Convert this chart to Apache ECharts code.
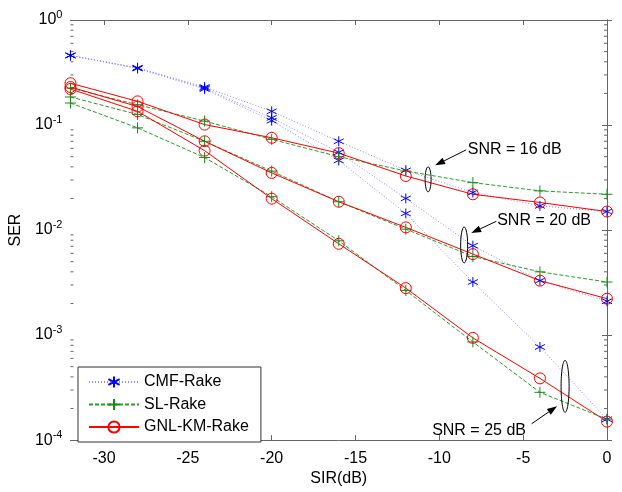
<!DOCTYPE html>
<html>
<head>
<meta charset="utf-8">
<script src="https://cdn.jsdelivr.net/npm/echarts@6/dist/echarts.min.js"></script>
<style>
  html, body { margin: 0; padding: 0; background: #fff; }
  #main { width: 622px; height: 492px; }
</style>
</head>
<body>
<div id="main"></div>
<script>
// SIR values (dB)
var sir = [-32, -28, -24, -20, -16, -12, -8, -4, 0];
var xTicks = [-30, -25, -20, -15, -10, -5, 0];
var yTicks = [1e-4, 1e-3, 1e-2, 1e-1, 1];
var yMinor = [2e-4,3e-4,4e-4,5e-4,6e-4,7e-4,8e-4,9e-4,
              2e-3,3e-3,4e-3,5e-3,6e-3,7e-3,8e-3,9e-3,
              2e-2,3e-2,4e-2,5e-2,6e-2,7e-2,8e-2,9e-2,
              0.2,0.3,0.4,0.5,0.6,0.7,0.8,0.9];

// CMF-Rake, SNR = 16 / 20 / 25 dB
var cmf16 = [0.46, 0.35, 0.23, 0.135, 0.070, 0.037, 0.0228, 0.017, 0.015];
var cmf20 = [0.46, 0.35, 0.225, 0.117, 0.055, 0.020, 0.0071, 0.0033, 0.0021];
var cmf25 = [0.46, 0.345, 0.22, 0.11, 0.046, 0.0144, 0.0032, 0.00077, 0.000158];
// SL-Rake
var sl16 = [0.225, 0.156, 0.109, 0.073, 0.050, 0.0365, 0.0283, 0.0236, 0.0219];
var sl20 = [0.185, 0.126, 0.070, 0.0364, 0.0186, 0.0102, 0.0056, 0.0040, 0.0032];
var sl25 = [0.162, 0.094, 0.049, 0.0208, 0.0079, 0.00266, 0.00086, 0.000285, 0.000158];
// GNL-KM-Rake
var gnl16 = [0.25, 0.168, 0.101, 0.0756, 0.054, 0.0327, 0.0219, 0.0183, 0.015];
var gnl20 = [0.23, 0.15, 0.070, 0.035, 0.0186, 0.0106, 0.0059, 0.0033, 0.00222];
var gnl25 = [0.22, 0.135, 0.057, 0.0199, 0.0074, 0.0028, 0.00094, 0.000387, 0.00015];

// annotations (data coords): label, text anchor, arrow start, arrow tip, ellipse centre, ellipse radii (px)
var notes = [
  {text: 'SNR = 16 dB', at: [-8.3, 0.0586], from: [-8.4, 0.058], tip: [-10.25, 0.0413], ell: [-10.67, 0.0304], r: [3, 12.5]},
  {text: 'SNR = 20 dB', at: [-6.55, 0.01217], from: [-6.6, 0.0121], tip: [-8.1, 0.00937], ell: [-8.52, 0.00721], r: [3.5, 18]},
  {text: 'SNR = 25 dB', at: [-10.43, 0.000122], from: [-4.5, 0.000143], tip: [-2.98, 0.00021], ell: [-2.5, 0.000325], r: [4, 26]}
];

var FONT = '"Liberation Sans", Arial, sans-serif';
var STAR = 'path://M0,-10L0,10M-8.66,-5L8.66,5M-8.66,5L8.66,-5';
var PLUS = 'path://M0,-10L0,10M-10,0L10,0';

function pts(ys) {
  return sir.map(function (x, i) { return [x, ys[i]]; });
}

function cmfSeries(ys) {
  return {
    name: 'CMF-Rake', type: 'line', data: pts(ys),
    symbol: STAR, symbolSize: 10,
    itemStyle: {color: 'transparent', borderColor: '#0000ff', borderWidth: 1},
    lineStyle: {color: '#8c8cff', width: 1, type: [1, 2]}
  };
}
function slSeries(ys) {
  return {
    name: 'SL-Rake', type: 'line', data: pts(ys),
    symbol: PLUS, symbolSize: 11,
    itemStyle: {color: 'transparent', borderColor: '#1a8c1a', borderWidth: 1},
    lineStyle: {color: '#2e9a2e', width: 1, type: [4, 2]}
  };
}
function gnlSeries(ys) {
  return {
    name: 'GNL-KM-Rake', type: 'line', data: pts(ys),
    symbol: 'circle', symbolSize: 11,
    itemStyle: {color: 'transparent', borderColor: '#ff0000', borderWidth: 1},
    lineStyle: {color: '#ff0000', width: 1}
  };
}

var chart = echarts.init(document.getElementById('main'));

var axisLine = {show: true, lineStyle: {color: '#666', width: 1}};
var yLabelRich = {
  b: {fontSize: 16, fontFamily: FONT, color: '#000'},
  s: {fontSize: 11, fontFamily: FONT, color: '#000', padding: [0, 0, 10, 0]}
};

var option = {
  backgroundColor: '#fff',
  animation: false,
  grid: {left: 70, right: 15, top: 20, bottom: 50},
  legend: {
    data: ['CMF-Rake', 'SL-Rake', 'GNL-KM-Rake'],
    orient: 'vertical', left: 78, top: 367,
    itemWidth: 50, itemHeight: 14, itemGap: 6.5,
    padding: [7, 12, 7, 10],
    borderColor: '#333', borderWidth: 1, backgroundColor: '#fff',
    textStyle: {fontSize: 16, fontFamily: FONT, color: '#000'}
  },
  xAxis: [{
    type: 'value', min: -32, max: 0, position: 'bottom',
    name: 'SIR(dB)', nameLocation: 'middle', nameGap: 27,
    nameTextStyle: {fontSize: 16, fontFamily: FONT, color: '#000'},
    axisLine: axisLine,
    axisTick: {inside: true, length: 5, customValues: xTicks, lineStyle: {color: '#666'}},
    axisLabel: {customValues: xTicks, margin: 10, fontSize: 16, fontFamily: FONT, color: '#000'},
    splitLine: {show: false}
  }, {
    type: 'value', min: -32, max: 0, position: 'top',
    axisLine: axisLine,
    axisTick: {inside: true, length: 5, customValues: xTicks, lineStyle: {color: '#666'}},
    axisLabel: {show: false},
    splitLine: {show: false}
  }],
  yAxis: [{
    type: 'log', logBase: 10, min: 1e-4, max: 1, position: 'left',
    name: 'SER', nameLocation: 'middle', nameGap: 38, nameRotate: 90,
    nameTextStyle: {fontSize: 16, fontFamily: FONT, color: '#000'},
    axisLine: axisLine,
    axisTick: {inside: true, length: 5, customValues: yTicks, lineStyle: {color: '#666'}},
    axisLabel: {
      customValues: yTicks, margin: 8,
      formatter: function (v) {
        return '{b|10}{s|' + Math.round(Math.log10(v)) + '}';
      },
      rich: yLabelRich
    },
    splitLine: {show: false}
  }, {
    type: 'log', logBase: 10, min: 1e-4, max: 1, position: 'right',
    axisLine: axisLine,
    axisTick: {inside: true, length: 5, customValues: yTicks, lineStyle: {color: '#666'}},
    axisLabel: {show: false},
    splitLine: {show: false}
  }],
  series: [
    cmfSeries(cmf16), cmfSeries(cmf20), cmfSeries(cmf25),
    slSeries(sl16), slSeries(sl20), slSeries(sl25),
    gnlSeries(gnl16), gnlSeries(gnl20), gnlSeries(gnl25),
    {
      // minor ticks of the log axis, left and right side
      type: 'custom', silent: true, z: 1,
      data: yMinor.map(function (v) { return [-32, v]; }),
      renderItem: function (params, api) {
        var p = api.coord([api.value(0), api.value(1)]);
        var cs = params.coordSys;
        var st = {stroke: '#666', lineWidth: 1};
        return {
          type: 'group',
          children: [
            {type: 'line', shape: {x1: cs.x, y1: p[1], x2: cs.x + 3, y2: p[1]}, style: st},
            {type: 'line', shape: {x1: cs.x + cs.width - 3, y1: p[1], x2: cs.x + cs.width, y2: p[1]}, style: st}
          ]
        };
      }
    }
  ]
};
chart.setOption(option);

// annotations placed through the axes
var g = [];
notes.forEach(function (n) {
  var t = chart.convertToPixel({gridIndex: 0}, n.at);
  var a = chart.convertToPixel({gridIndex: 0}, n.from);
  var b = chart.convertToPixel({gridIndex: 0}, n.tip);
  var e = chart.convertToPixel({gridIndex: 0}, n.ell);
  var dx = b[0] - a[0], dy = b[1] - a[1];
  var len = Math.sqrt(dx * dx + dy * dy);
  var ux = dx / len, uy = dy / len;
  var hl = 10, hw = 3.5;
  var bx = b[0] - ux * hl, by = b[1] - uy * hl;
  g.push({type: 'text', x: t[0], y: t[1], z: 100,
    style: {text: n.text, font: '16px ' + FONT, fill: '#000', align: 'left', verticalAlign: 'middle'}});
  g.push({type: 'line', z: 100, shape: {x1: a[0], y1: a[1], x2: bx, y2: by},
    style: {stroke: '#000', lineWidth: 1}});
  g.push({type: 'polygon', z: 100,
    shape: {points: [[b[0], b[1]], [bx - uy * hw, by + ux * hw], [bx + uy * hw, by - ux * hw]]},
    style: {fill: '#000'}});
  g.push({type: 'ellipse', z: 100, shape: {cx: e[0], cy: e[1], rx: n.r[0], ry: n.r[1]},
    style: {fill: 'none', stroke: '#000', lineWidth: 1}});
});
chart.setOption({graphic: g});
</script>
</body>
</html>
